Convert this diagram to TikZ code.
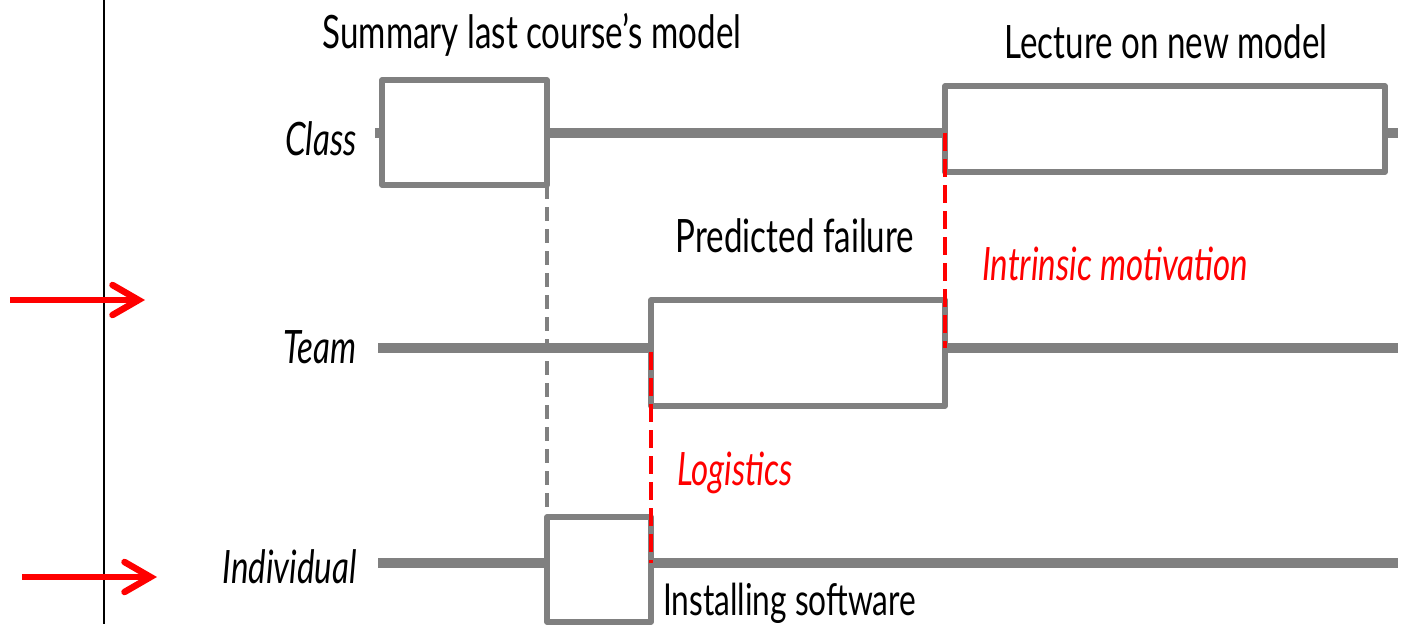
\documentclass[tikz,border=0pt]{standalone}
\usepackage{fontspec}
\setmainfont[FakeStretch=0.72]{Lato}
\usetikzlibrary{arrows.meta}
\definecolor{lg}{RGB}{128,128,128}
\definecolor{rd}{RGB}{255,0,0}
\begin{document}
\begin{tikzpicture}[x=1pt,y=-1pt,
  track/.style={draw=lg,line width=10pt},
  boxnode/.style={draw=lg,line width=5.5pt,rectangle,inner sep=0pt,outer sep=0pt,line join=round},
  gdash/.style={draw=lg,line width=3.5pt,dash pattern=on 14pt off 8pt},
  rdash/.style={draw=rd,line width=4.5pt,dash pattern=on 18pt off 8pt},
  lbl/.style={font=\fontsize{46}{50}\selectfont,inner sep=0pt},
  ilbl/.style={font=\fontsize{46}{50}\selectfont\itshape,inner sep=0pt},
  marker/.style={draw=rd,line width=6.5pt,-{Straight Barb[length=26pt,width=30pt,line cap=round]}},
  axis/.style={draw=black,line width=2.5pt}]
\useasboundingbox (0,0) rectangle (1406,624);
% axis line
\coordinate (axT) at (104,0);
\coordinate (axB) at (104,624);
\draw[axis] (axT) -- (axB);
% arrows
\coordinate (a1s) at (10,300);
\coordinate (a1e) at (145,300);
\coordinate (a2s) at (22,577);
\coordinate (a2e) at (157,577);
\draw[marker] (a1s) -- (a1e);
\draw[marker] (a2s) -- (a2e);
% boxes
\node[boxnode,minimum width=165pt,minimum height=105pt] (sumbox) at (464.5,132.5) {};
\node[boxnode,minimum width=440pt,minimum height=86pt] (lecbox) at (1165,129) {};
\node[boxnode,minimum width=294pt,minimum height=106pt] (predbox) at (798,353) {};
\node[boxnode,minimum width=104pt,minimum height=105pt] (instbox) at (599,569.5) {};
% track coordinates
\coordinate (cL) at (375,133);
\coordinate (cR) at (1398,133);
\coordinate (tL) at (378,348);
\coordinate (tR) at (1398,348);
\coordinate (iL) at (378,563);
\coordinate (iR) at (1398,563);
\coordinate (cM) at (945,133);
\coordinate (tM) at (945,348);
\coordinate (tN) at (651,352);
\coordinate (iN) at (651,563);
% tracks
\draw[track] (cL) -- (cL -| sumbox.west);
\draw[track] (cL -| sumbox.east) -- (cL -| lecbox.west);
\draw[track] (cL -| lecbox.east) -- (cR);
\draw[track] (tL) -- (tL -| predbox.west);
\draw[track] (tL -| predbox.east) -- (tR);
\draw[track] (iL) -- (iL -| instbox.west);
\draw[track] (iL -| instbox.east) -- (iR);
% dashed links
\draw[gdash] (sumbox.south east) -- (instbox.north west);
\draw[rdash] (cM) -- (tM);
\draw[rdash] (tN) -- (iN);
% labels
\node[ilbl,anchor=base east] (lclass) at (357,155) {Class};
\node[ilbl,anchor=base east] (lteam) at (357,363) {Team};
\node[ilbl,anchor=base east] (lind) at (357,583) {Individual};
\node[lbl,anchor=base] (lsum) at (532,48) {Summary last course’s model};
\node[lbl,anchor=base] (llec) at (1166,58) {Lecture on new model};
\node[lbl,anchor=base] (lpred) at (795,252) {Predicted failure};
\node[ilbl,anchor=base west,text=rd] (lintr) at (982,280) {Intrinsic motivation};
\node[ilbl,anchor=base west,text=rd] (llog) at (677,485) {Logistics};
\node[lbl,anchor=base west,font=\fontsize{44}{50}\selectfont] (linst) at (663,615) {Installing software};
\end{tikzpicture}
\end{document}
